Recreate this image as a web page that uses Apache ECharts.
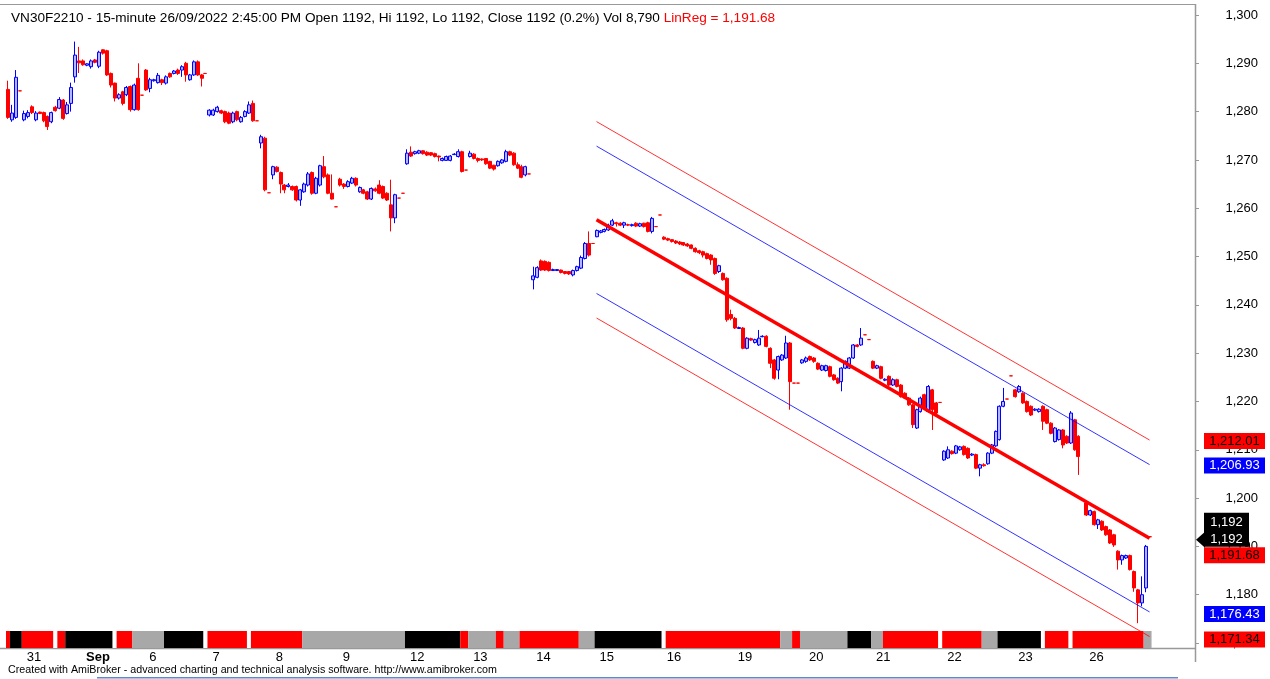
<!DOCTYPE html>
<html>
<head>
<meta charset="utf-8">
<title>VN30F2210 15-minute</title>
<script src="https://cdn.jsdelivr.net/npm/echarts@6/dist/echarts.min.js"></script>
<style>
  html, body { margin: 0; padding: 0; background: #fff; }
  #chart { width: 1270px; height: 679px; }
</style>
</head>
<body>
<div id="chart"></div>
<script type="text/javascript">
// 15-minute bars, one array per trading day, each bar [open, close, low, high]
const d0830 = [
  [1284.6, 1278.8, 1278.5, 1286.4], [1278.3, 1279.7, 1277.9, 1281.4], [1278.8, 1287.1, 1278.5, 1288.6],
  [1284.3, 1284.3, 1284.3, 1284.3]
];
const d0831 = [
  [1278.3, 1279.6, 1278.0, 1280.2], [1279.0, 1279.8, 1278.6, 1280.3], [1281.0, 1279.8, 1279.5, 1281.3],
  [1278.3, 1279.7, 1278.0, 1280.1], [1279.9, 1279.6, 1279.5, 1280.0], [1279.8, 1278.1, 1277.8, 1280.0],
  [1279.0, 1276.9, 1276.2, 1279.2], [1277.9, 1279.8, 1277.6, 1280.0], [1280.9, 1280.2, 1280.0, 1281.2],
  [1280.7, 1282.5, 1280.5, 1283.0], [1282.4, 1278.6, 1278.3, 1282.6], [1279.6, 1281.4, 1279.4, 1282.0],
  [1281.7, 1285.0, 1280.0, 1286.0], [1287.2, 1291.7, 1286.0, 1294.5], [1290.5, 1290.1, 1288.0, 1293.4]
];
const d0901 = [
  [1290.5, 1289.7, 1289.5, 1290.8], [1289.6, 1289.9, 1289.4, 1290.0], [1289.3, 1290.5, 1288.9, 1290.8],
  [1290.7, 1290.2, 1290.0, 1290.9], [1289.4, 1292.3, 1289.0, 1292.6], [1292.8, 1292.1, 1291.8, 1292.9],
  [1292.6, 1287.6, 1287.4, 1292.8], [1287.9, 1285.5, 1285.0, 1288.1], [1285.9, 1282.8, 1282.1, 1286.0],
  [1282.8, 1283.5, 1282.5, 1283.8], [1284.1, 1281.7, 1281.3, 1284.3], [1283.5, 1285.0, 1283.2, 1285.3],
  [1285.2, 1280.4, 1280.0, 1285.4], [1280.4, 1285.5, 1280.2, 1285.8], [1286.9, 1280.4, 1280.2, 1290.0],
  [1283.4, 1283.4, 1283.4, 1283.4]
];
const d0906 = [
  [1288.6, 1284.5, 1284.3, 1288.8], [1284.8, 1286.6, 1284.0, 1287.0], [1286.4, 1286.6, 1286.2, 1286.8],
  [1286.0, 1287.5, 1285.8, 1288.0], [1286.6, 1286.0, 1285.5, 1286.8], [1285.9, 1287.2, 1285.6, 1287.5],
  [1287.9, 1287.2, 1287.0, 1288.1], [1287.9, 1288.4, 1287.7, 1288.6], [1288.6, 1287.9, 1287.6, 1288.9],
  [1288.6, 1289.3, 1287.2, 1289.6], [1290.0, 1287.6, 1286.2, 1290.3], [1286.6, 1287.6, 1286.4, 1287.8],
  [1287.6, 1290.3, 1287.4, 1290.6], [1290.3, 1287.6, 1287.4, 1290.6], [1287.6, 1286.9, 1285.2, 1287.8],
  [1287.9, 1287.9, 1287.9, 1287.9]
];
const d0907 = [
  [1279.3, 1280.3, 1279.0, 1280.5], [1279.3, 1280.3, 1279.1, 1280.6], [1280.0, 1280.9, 1279.8, 1281.2],
  [1280.2, 1279.7, 1279.5, 1280.4], [1280.0, 1277.9, 1277.6, 1280.2], [1279.7, 1277.6, 1277.4, 1280.0],
  [1277.9, 1279.7, 1277.6, 1280.0], [1280.0, 1278.3, 1278.0, 1280.2], [1277.9, 1278.8, 1277.7, 1279.1],
  [1279.0, 1280.0, 1278.8, 1280.3], [1279.7, 1281.4, 1279.5, 1282.1], [1281.7, 1278.1, 1277.9, 1282.3],
  [1278.1, 1278.1, 1278.1, 1278.1], [1273.5, 1274.8, 1272.4, 1275.2], [1274.5, 1263.8, 1263.5, 1274.8],
  [1263.2, 1263.2, 1263.2, 1263.2]
];
const d0908 = [
  [1266.9, 1268.6, 1266.0, 1268.8], [1268.5, 1267.6, 1267.4, 1268.7], [1267.4, 1265.0, 1263.1, 1267.6],
  [1264.8, 1263.8, 1263.1, 1265.0], [1264.5, 1264.8, 1264.3, 1265.2], [1264.5, 1263.8, 1263.6, 1264.7],
  [1264.5, 1261.7, 1261.4, 1264.7], [1261.7, 1263.8, 1260.5, 1264.0], [1263.4, 1265.0, 1263.2, 1265.3],
  [1264.8, 1267.1, 1264.5, 1267.5], [1267.4, 1263.1, 1262.8, 1267.6], [1263.1, 1266.2, 1262.9, 1266.5],
  [1264.8, 1268.8, 1264.5, 1269.0], [1268.6, 1266.5, 1266.2, 1270.8], [1266.9, 1263.1, 1262.9, 1267.2],
  [1263.1, 1261.9, 1261.8, 1267.0], [1260.3, 1260.3, 1260.3, 1260.3]
];
const d0909 = [
  [1266.0, 1264.8, 1264.5, 1266.3], [1265.0, 1264.5, 1264.0, 1265.2], [1264.5, 1265.5, 1264.3, 1265.8],
  [1265.2, 1266.2, 1265.0, 1266.5], [1266.2, 1264.8, 1264.5, 1266.4], [1263.4, 1264.3, 1263.2, 1264.5],
  [1263.8, 1263.1, 1262.9, 1264.0], [1263.4, 1261.9, 1261.7, 1263.6], [1261.9, 1264.1, 1261.7, 1264.3],
  [1264.0, 1263.6, 1263.4, 1264.3], [1264.8, 1263.1, 1262.9, 1265.8], [1264.5, 1262.1, 1261.9, 1264.7],
  [1263.1, 1261.7, 1261.5, 1263.3], [1260.7, 1258.0, 1255.2, 1265.9], [1258.0, 1262.8, 1256.9, 1263.0],
  [1262.1, 1262.1, 1262.1, 1262.1], [1263.1, 1263.1, 1263.1, 1263.1]
];
const d0912 = [
  [1269.2, 1271.4, 1269.0, 1272.2], [1271.6, 1270.8, 1270.6, 1272.8], [1271.3, 1271.7, 1271.1, 1271.9],
  [1271.4, 1271.9, 1271.2, 1272.1], [1271.9, 1271.3, 1271.1, 1272.0], [1271.6, 1271.0, 1270.8, 1271.8],
  [1271.5, 1271.0, 1270.8, 1271.6], [1271.3, 1270.7, 1270.5, 1271.5], [1270.8, 1270.6, 1269.7, 1270.9],
  [1269.9, 1270.3, 1269.7, 1270.5], [1269.9, 1270.7, 1269.8, 1270.9], [1269.9, 1270.8, 1269.7, 1271.0],
  [1271.1, 1271.2, 1271.0, 1271.4], [1270.7, 1271.7, 1270.5, 1272.2], [1271.7, 1267.6, 1267.4, 1271.9],
  [1267.9, 1267.9, 1267.9, 1267.9]
];
const d0913 = [
  [1270.7, 1271.4, 1270.5, 1271.9], [1271.2, 1270.3, 1270.1, 1271.4], [1270.3, 1269.9, 1269.5, 1270.5],
  [1270.2, 1270.0, 1269.8, 1270.3], [1270.3, 1269.2, 1269.0, 1270.4], [1269.7, 1268.3, 1268.1, 1269.8],
  [1268.9, 1268.1, 1267.8, 1269.0], [1268.8, 1269.7, 1268.6, 1269.9], [1269.4, 1270.0, 1269.2, 1270.2],
  [1269.7, 1271.7, 1269.5, 1272.1], [1271.7, 1271.0, 1270.8, 1271.9], [1271.4, 1269.0, 1268.8, 1271.6],
  [1269.0, 1268.3, 1268.1, 1269.5], [1268.6, 1266.4, 1266.2, 1269.0], [1266.9, 1268.6, 1266.6, 1268.8],
  [1267.1, 1267.1, 1267.1, 1267.1]
];
const d0914 = [
  [1245.2, 1246.0, 1243.2, 1247.9], [1245.7, 1247.7, 1245.5, 1248.0], [1249.1, 1247.2, 1247.0, 1249.4],
  [1249.0, 1247.2, 1247.0, 1249.2], [1248.8, 1247.1, 1246.9, 1249.0], [1247.1, 1247.3, 1247.0, 1247.5],
  [1247.1, 1247.3, 1247.0, 1247.4], [1247.2, 1246.7, 1246.5, 1247.3], [1246.9, 1246.5, 1246.3, 1247.0],
  [1246.9, 1246.4, 1246.2, 1247.0], [1246.2, 1247.1, 1245.9, 1247.3], [1247.1, 1247.9, 1246.9, 1248.1],
  [1247.6, 1249.8, 1247.4, 1250.2], [1249.6, 1252.7, 1249.4, 1253.0], [1252.7, 1250.3, 1250.0, 1255.2],
  [1252.7, 1252.7, 1252.7, 1252.7]
];
const d0915 = [
  [1254.1, 1255.4, 1254.0, 1255.6], [1255.0, 1255.3, 1254.8, 1255.5], [1255.2, 1255.6, 1255.0, 1255.8],
  [1255.5, 1256.5, 1255.3, 1256.8], [1256.5, 1257.4, 1256.3, 1257.8], [1257.0, 1256.8, 1256.2, 1257.2],
  [1256.9, 1256.5, 1256.3, 1257.1], [1256.5, 1257.0, 1255.9, 1257.2], [1256.6, 1256.5, 1256.3, 1256.8],
  [1256.4, 1256.6, 1256.2, 1256.8], [1256.9, 1256.3, 1256.1, 1257.1], [1256.3, 1256.8, 1256.1, 1257.0],
  [1256.9, 1256.2, 1256.0, 1257.0], [1257.0, 1255.2, 1255.0, 1257.2], [1255.2, 1257.9, 1254.8, 1258.2],
  [1256.2, 1256.2, 1256.2, 1256.2], [1258.6, 1258.6, 1258.6, 1258.6]
];
const d0916 = [
  [1254.0, 1253.6, 1253.4, 1254.2], [1253.7, 1253.4, 1253.2, 1253.9], [1253.5, 1253.1, 1252.9, 1253.6],
  [1253.2, 1252.8, 1252.6, 1253.4], [1253.0, 1252.6, 1252.4, 1253.2], [1252.9, 1252.4, 1252.2, 1253.0],
  [1252.6, 1252.2, 1252.0, 1252.8], [1252.4, 1251.7, 1251.5, 1252.5], [1251.7, 1251.0, 1250.8, 1251.9],
  [1251.2, 1250.8, 1250.5, 1251.4], [1251.0, 1250.3, 1249.8, 1251.2], [1250.6, 1249.6, 1249.4, 1250.8],
  [1250.3, 1249.3, 1248.3, 1250.5], [1249.6, 1246.5, 1246.2, 1249.8], [1246.9, 1248.1, 1246.6, 1248.3],
  [1246.5, 1245.2, 1245.0, 1246.7], [1245.5, 1236.9, 1236.5, 1245.7], [1238.0, 1237.2, 1236.8, 1239.0]
];
const d0919 = [
  [1237.2, 1235.2, 1235.0, 1237.5], [1235.1, 1235.3, 1235.0, 1235.5], [1235.2, 1231.0, 1230.8, 1235.4],
  [1231.0, 1233.1, 1230.8, 1233.3], [1233.0, 1232.7, 1232.5, 1233.2], [1232.2, 1232.8, 1232.0, 1233.0],
  [1231.7, 1233.1, 1231.5, 1234.8], [1233.4, 1233.5, 1233.3, 1233.7], [1233.5, 1231.4, 1231.2, 1233.7],
  [1231.0, 1227.9, 1226.9, 1231.2], [1228.6, 1224.8, 1224.5, 1228.8], [1226.5, 1229.3, 1224.6, 1229.5],
  [1228.6, 1229.6, 1228.4, 1229.8], [1229.0, 1232.1, 1228.8, 1233.6], [1232.1, 1224.1, 1218.3, 1232.3],
  [1223.8, 1223.8, 1223.8, 1223.8], [1223.8, 1223.8, 1223.8, 1223.8], [1228.0, 1228.6, 1227.8, 1228.8]
];
const d0920 = [
  [1228.3, 1229.0, 1228.0, 1229.3], [1229.3, 1228.6, 1228.4, 1229.5], [1229.0, 1228.3, 1228.0, 1229.2],
  [1227.9, 1226.7, 1226.5, 1228.1], [1226.5, 1227.4, 1226.3, 1227.6], [1226.4, 1227.4, 1226.2, 1227.6],
  [1227.2, 1225.2, 1225.0, 1227.4], [1225.5, 1224.5, 1224.3, 1225.7], [1224.8, 1223.8, 1223.6, 1225.0],
  [1224.1, 1226.9, 1222.1, 1227.1], [1226.9, 1228.3, 1226.7, 1228.5], [1226.9, 1229.0, 1226.7, 1229.2],
  [1229.0, 1231.7, 1228.8, 1231.9], [1231.7, 1231.4, 1231.2, 1231.9], [1231.7, 1233.1, 1231.5, 1235.2],
  [1233.8, 1233.8, 1233.8, 1233.8], [1232.8, 1232.8, 1232.8, 1232.8]
];
const d0921 = [
  [1228.3, 1226.9, 1226.7, 1228.5], [1226.9, 1227.4, 1226.7, 1227.6], [1227.2, 1224.8, 1224.6, 1227.4],
  [1224.4, 1224.6, 1224.2, 1224.8], [1225.2, 1223.4, 1223.2, 1225.4], [1223.4, 1224.5, 1223.2, 1224.8],
  [1224.5, 1223.1, 1222.9, 1224.7], [1223.4, 1221.0, 1220.8, 1223.6], [1221.7, 1220.7, 1220.5, 1221.9],
  [1220.7, 1219.3, 1219.1, 1220.9], [1219.3, 1215.2, 1214.5, 1219.5], [1214.5, 1218.3, 1214.3, 1218.5],
  [1217.9, 1220.7, 1217.7, 1221.0], [1221.4, 1218.6, 1218.4, 1221.6], [1217.9, 1223.1, 1217.7, 1223.4],
  [1222.4, 1218.3, 1214.1, 1222.6], [1219.7, 1217.6, 1217.4, 1219.9], [1219.8, 1219.8, 1219.8, 1219.8]
];
const d0922 = [
  [1207.9, 1209.7, 1207.7, 1209.9], [1208.3, 1210.0, 1208.1, 1210.7], [1209.7, 1209.2, 1209.0, 1209.9],
  [1209.3, 1210.8, 1209.1, 1211.0], [1210.0, 1210.6, 1209.8, 1210.8], [1210.7, 1209.0, 1208.8, 1210.9],
  [1210.3, 1208.3, 1208.1, 1210.5], [1208.9, 1209.1, 1208.7, 1209.3], [1209.0, 1206.2, 1206.0, 1209.2],
  [1206.2, 1206.9, 1204.5, 1207.1], [1206.9, 1206.7, 1206.5, 1207.2], [1207.1, 1209.3, 1206.9, 1209.5],
  [1209.3, 1211.0, 1209.1, 1211.2], [1210.8, 1213.8, 1210.6, 1214.0], [1212.1, 1219.0, 1211.9, 1219.2],
  [1219.0, 1220.0, 1218.8, 1222.8], [1220.5, 1220.5, 1220.5, 1220.5], [1225.3, 1225.3, 1225.3, 1225.3]
];
const d0923 = [
  [1222.4, 1221.0, 1220.8, 1222.6], [1222.0, 1223.1, 1221.8, 1223.4], [1221.7, 1219.7, 1219.5, 1221.9],
  [1220.0, 1217.9, 1217.7, 1220.2], [1219.0, 1217.2, 1217.0, 1219.2], [1218.2, 1218.4, 1218.0, 1218.6],
  [1217.9, 1218.4, 1217.7, 1218.6], [1219.0, 1215.9, 1214.1, 1219.2], [1218.3, 1215.5, 1215.3, 1218.5],
  [1215.5, 1213.4, 1213.2, 1215.7], [1211.7, 1214.5, 1211.5, 1214.7], [1212.1, 1214.1, 1211.9, 1214.3],
  [1214.1, 1211.0, 1210.3, 1214.3], [1212.8, 1211.4, 1211.2, 1213.0], [1211.4, 1217.6, 1211.2, 1218.0],
  [1216.2, 1210.0, 1209.8, 1216.4], [1212.8, 1208.6, 1204.8, 1213.0], null
];
const d0926 = [
  [1199.0, 1196.5, 1196.3, 1199.2], [1196.5, 1197.4, 1196.3, 1197.6], [1197.2, 1194.5, 1194.3, 1197.4],
  [1194.5, 1195.5, 1193.6, 1195.7], [1195.2, 1193.4, 1193.2, 1195.4], [1194.1, 1192.4, 1192.2, 1194.3],
  [1193.4, 1190.7, 1190.5, 1193.6], [1192.4, 1190.3, 1189.9, 1192.6], [1189.0, 1187.2, 1185.2, 1189.2],
  [1187.2, 1188.1, 1186.2, 1188.3], [1187.6, 1188.1, 1187.4, 1188.3], [1188.1, 1185.2, 1185.0, 1188.3],
  [1184.8, 1181.4, 1180.6, 1185.0], [1181.0, 1178.3, 1174.1, 1181.2], [1178.3, 1180.0, 1177.6, 1183.8],
  [1181.4, 1190.0, 1180.5, 1190.3], [1192.0, 1192.0, 1192.0, 1192.0]
];

const days = [d0830, d0831, d0901, d0906, d0907, d0908, d0909, d0912, d0913, d0914,
              d0915, d0916, d0919, d0920, d0921, d0922, d0923, d0926];
const dayLabels = ['', '31', 'Sep', '6', '7', '8', '9', '12', '13', '14',
                   '15', '16', '19', '20', '21', '22', '23', '26'];
const emptySlots = 11;   // blank space right of the last bar

// linear regression channel: first / last bar and values there
const regBars = [149, 289];
const linReg = [1257.60, 1191.68];
const blueUp = [1272.85, 1206.93];
const blueDn = [1242.35, 1176.43];
const redUp = [1277.93, 1212.01];
const redDn = [1237.27, 1171.34];

// ribbon under the price: [state, number of bars]
const ribbon = [
  ['R', 1], ['K', 3], ['R', 8], ['W', 1], ['R', 2], ['K', 12], ['W', 1], ['R', 4], ['G', 8], ['K', 10],
  ['W', 1], ['R', 10], ['W', 1], ['R', 13], ['G', 26], ['K', 14], ['R', 2], ['G', 7], ['R', 2], ['G', 4],
  ['R', 15], ['G', 4], ['K', 17], ['W', 1], ['R', 29], ['G', 3], ['R', 2], ['G', 12], ['K', 6], ['G', 3],
  ['R', 14], ['W', 1], ['R', 10], ['G', 4], ['K', 11], ['W', 1], ['R', 6], ['W', 1], ['R', 18], ['G', 2]
];

const RED = '#ff0000', BLUE = '#0000ff';
const ribbonColor = { R: RED, K: '#000000', G: '#a8a8a8', W: '#ffffff' };
const FONT = 'Arial, "Liberation Sans", sans-serif';

// ---- build what the chart needs
let bars = [];
let labelAt = {};
days.forEach((d, k) => {
  if (dayLabels[k]) labelAt[bars.length] = dayLabels[k];
  bars = bars.concat(d);
});
const candles = bars.map(b => b ? b : ['-', '-', '-', '-']);
const nSlots = bars.length + emptySlots;
const categories = [];
for (let i = 0; i < nSlots; i++) categories.push(String(i));

let runs = [], pos = 0;
ribbon.forEach(r => { runs.push([pos, pos + r[1] - 1]); pos += r[1]; });

const fmt = (v, dec) => v.toLocaleString('en-US', { minimumFractionDigits: dec, maximumFractionDigits: dec });
const last = bars[bars.length - 1];

const chart = echarts.init(document.getElementById('chart'));
chart.setOption({
  animation: false,
  backgroundColor: '#fff',
  title: {
    left: 6, top: 6,
    text: '{a|VN30F2210 - 15-minute 26/09/2022 2:45:00 PM Open ' + last[0] + ', Hi ' + last[3] +
          ', Lo ' + last[2] + ', Close ' + last[1] + ' (0.2%) Vol 8,790 }{b|LinReg = ' + fmt(linReg[1], 2) + '}',
    textStyle: {
      fontWeight: 'normal',
      rich: {
        a: { fontFamily: FONT, fontSize: 13.6, fontWeight: 'normal', color: '#000' },
        b: { fontFamily: FONT, fontSize: 13.6, fontWeight: 'normal', color: RED }
      }
    }
  },
  grid: [
    { left: 6, right: 75, top: 15, bottom: 36, containLabel: false, outerBoundsMode: 'none' },
    { left: 6, right: 75, top: 631, bottom: 31, containLabel: false, outerBoundsMode: 'none' }
  ],
  xAxis: [
    { type: 'category', gridIndex: 0, data: categories, show: false },
    {
      type: 'category', gridIndex: 1, data: categories,
      axisLine: { show: false },
      axisTick: {
        alignWithLabel: true, length: 8, lineStyle: { color: '#555' },
        interval: i => labelAt[i] !== undefined
      },
      axisLabel: {
        interval: 0, align: 'left', margin: 3, padding: [0, 0, 0, 3],
        fontFamily: FONT, fontSize: 13, color: '#000',
        formatter: (v, i) => labelAt[i] === 'Sep' ? '{m|Sep}' : (labelAt[i] || ''),
        rich: { m: { fontFamily: FONT, fontSize: 13, fontWeight: 'bold', color: '#000' } }
      }
    }
  ],
  yAxis: [
    {
      type: 'value', gridIndex: 0, position: 'right', min: 1170, max: 1300, interval: 10,
      splitLine: { show: false },
      axisLine: { show: false },
      axisTick: { show: true, length: 4, lineStyle: { color: '#999' } },
      axisLabel: {
        align: 'right', margin: 63, fontFamily: FONT, fontSize: 13, color: '#000',
        formatter: v => fmt(v, 0)
      }
    },
    { type: 'value', gridIndex: 1, min: 0, max: 1, show: false }
  ],
  series: [
    {
      type: 'candlestick', xAxisIndex: 0, yAxisIndex: 0, data: candles,
      barWidth: 3.5, z: 2,
      itemStyle: {
        color: '#b4b4ff', borderColor: BLUE, color0: RED, borderColor0: RED,
        borderColorDoji: RED, borderWidth: 1
      }
    },
    {
      type: 'line', data: [[regBars[0], redUp[0]], [regBars[1], redUp[1]]], symbol: 'none', silent: true, z: 3,
      lineStyle: { color: RED, width: 1, opacity: 0.8 }
    },
    {
      type: 'line', data: [[regBars[0], blueUp[0]], [regBars[1], blueUp[1]]], symbol: 'none', silent: true, z: 3,
      lineStyle: { color: BLUE, width: 1, opacity: 0.8 }
    },
    {
      type: 'line', data: [[regBars[0], linReg[0]], [regBars[1], linReg[1]]], symbol: 'none', silent: true, z: 4,
      lineStyle: { color: RED, width: 3.5 }
    },
    {
      type: 'line', data: [[regBars[0], blueDn[0]], [regBars[1], blueDn[1]]], symbol: 'none', silent: true, z: 3,
      lineStyle: { color: BLUE, width: 1, opacity: 0.8 }
    },
    {
      type: 'line', data: [[regBars[0], redDn[0]], [regBars[1], redDn[1]]], symbol: 'none', silent: true, z: 3,
      lineStyle: { color: RED, width: 1, opacity: 0.8 }
    },
    {
      type: 'custom', xAxisIndex: 1, yAxisIndex: 1, data: runs, silent: true,
      renderItem: (params, api) => {
        const w = api.size([1, 0])[0];
        const p0 = api.coord([api.value(0), 1]);
        const p1 = api.coord([api.value(1), 0]);
        return {
          type: 'rect',
          shape: { x: p0[0] - w / 2, y: p0[1], width: p1[0] - p0[0] + w, height: p1[1] - p0[1] },
          style: { fill: ribbonColor[ribbon[params.dataIndex][0]] }
        };
      }
    }
  ]
});

// ---- frame, footer and value tags on the price axis
const y = v => chart.convertToPixel({ yAxisIndex: 0 }, v);
const g = [
  { type: 'line', shape: { x1: 0, y1: 4.5, x2: 1196, y2: 4.5 }, style: { stroke: '#999', lineWidth: 1 } },
  { type: 'line', shape: { x1: 1195.5, y1: 4, x2: 1195.5, y2: 662 }, style: { stroke: '#999', lineWidth: 1.5 } },
  { type: 'line', shape: { x1: 0, y1: 648.5, x2: 1196, y2: 648.5 }, style: { stroke: '#999', lineWidth: 1.5 } },
  { type: 'rect', shape: { x: 97, y: 677, width: 1081, height: 1.5 }, style: { fill: '#5a8ad0' } },
  {
    type: 'text', x: 8, y: 670,
    style: {
      text: 'Created with AmiBroker - advanced charting and technical analysis software. http://www.amibroker.com',
      fontFamily: FONT, fontSize: 10.7, fill: '#000', verticalAlign: 'middle'
    }
  }
];
const tag = (v, dy, bg, fg) => {
  const cy = y(v) + dy;
  g.push({ type: 'rect', z: 100, shape: { x: 1204, y: cy - 8, width: 61, height: 16 }, style: { fill: bg } });
  g.push({
    type: 'text', z: 101, x: 1234.5, y: cy,
    style: { text: fmt(v, 2), fontFamily: FONT, fontSize: 13, fill: fg, align: 'center', verticalAlign: 'middle' }
  });
};
tag(redUp[1], 1, RED, '#000');
tag(blueUp[1], 1, BLUE, '#fff');
tag(linReg[1], 17, RED, '#000');
tag(blueDn[1], 2, BLUE, '#fff');
tag(redDn[1], 3, RED, '#000');

const cy = y(last[1]) + 3;
g.push({ type: 'rect', z: 100, shape: { x: 1204, y: cy - 27, width: 45, height: 34 }, style: { fill: '#000' } });
g.push({ type: 'polygon', z: 100, shape: { points: [[1196, cy], [1205, cy - 8], [1205, cy + 8]] }, style: { fill: '#000' } });
[cy - 17, cy].forEach(ty => g.push({
  type: 'text', z: 101, x: 1226.5, y: ty,
  style: { text: fmt(last[1], 0), fontFamily: FONT, fontSize: 13, fill: '#fff', align: 'center', verticalAlign: 'middle' }
}));
chart.setOption({ graphic: g });
</script>
</body>
</html>
